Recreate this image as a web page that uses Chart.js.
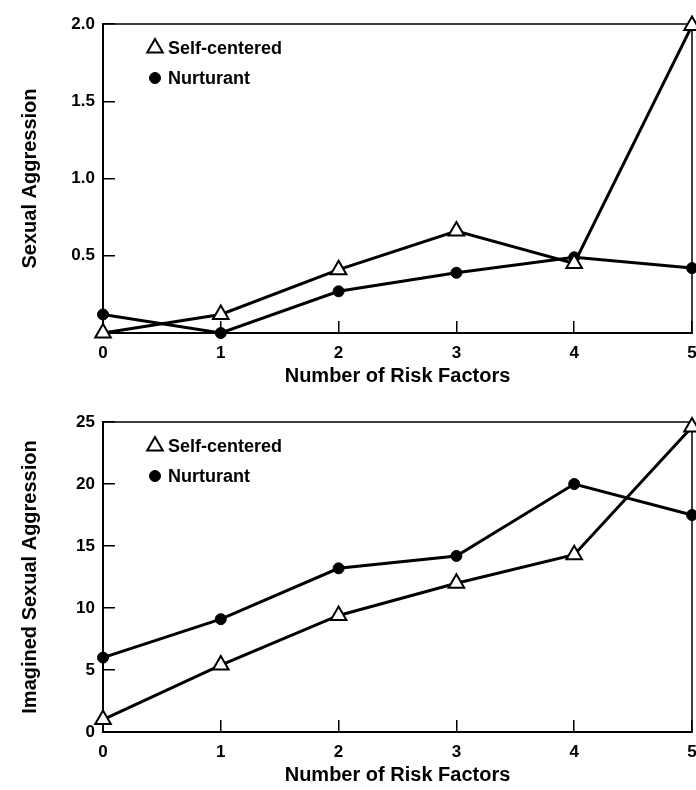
<!DOCTYPE html>
<html>
<head>
<meta charset="utf-8">
<script src="https://cdn.jsdelivr.net/npm/chart.js@4.4.1/dist/chart.umd.min.js"></script>
<style>
  html, body { margin: 0; padding: 0; background: #fff; overflow: hidden; }
  canvas { display: block; }
</style>
</head>
<body>
<canvas id="topChart" width="696" height="395"></canvas>
<canvas id="bottomChart" width="696" height="395"></canvas>
<script>
const riskFactors = ['0', '1', '2', '3', '4', '5'];

// top panel - Sexual Aggression
const sexAggSelf = [0.0, 0.12, 0.41, 0.66, 0.45, 1.99];
const sexAggNurt = [0.12, 0.0, 0.27, 0.39, 0.49, 0.42];
const sexAggTicks = ['', '0.5', '1.0', '1.5', '2.0'];

// bottom panel - Imagined Sexual Aggression
const imagAggSelf = [1.0, 5.4, 9.4, 12.0, 14.3, 24.6];
const imagAggNurt = [6.0, 9.1, 13.2, 14.2, 20.0, 17.5];
const imagAggTicks = ['0', '5', '10', '15', '20', '25'];

const FONT = '"Liberation Sans", Arial, Helvetica, sans-serif';

// box round the plot area (top + right sides)
const frame = {
    id: 'frame',
    beforeDatasetsDraw(chart) {
        const { ctx, chartArea: a } = chart;
        ctx.save();
        ctx.strokeStyle = '#000';
        ctx.lineWidth = 1.5;
        ctx.strokeRect(a.left, a.top, a.right - a.left, a.bottom - a.top);
        ctx.restore();
    }
};

// legend drawn inside the plot, top left, markers only
const insideLegend = {
    id: 'insideLegend',
    afterDraw(chart) {
        const { ctx, chartArea: a } = chart;
        chart.data.datasets.forEach((ds, i) => {
            const cy = a.top + 24 + i * 30;
            ctx.save();
            ctx.lineWidth = ds.pointBorderWidth;
            ctx.strokeStyle = ds.pointBorderColor;
            ctx.fillStyle = ds.pointBackgroundColor;
            Chart.helpers.drawPoint(ctx, {
                pointStyle: ds.pointStyle,
                radius: ds.pointRadius,
                borderWidth: ds.pointBorderWidth
            }, a.left + 52, cy);
            ctx.fillStyle = '#000';
            ctx.font = 'bold 18px ' + FONT;
            ctx.textBaseline = 'middle';
            ctx.fillText(ds.label, a.left + 65, cy + 1);
            ctx.restore();
        });
    }
};

function makePanel(id, selfData, nurtData, yTitle, yMax, yStep, yTicks, padTop, xAxisH, xTitlePad) {
    const tickFont = { family: FONT, size: 17, weight: 'bold' };
    const titleFont = { family: FONT, size: 20, weight: 'bold' };
    // negative tick length -> ticks point into the plot
    const grid = { drawOnChartArea: false, drawTicks: true, tickLength: -12, color: '#000', lineWidth: 1.5 };
    const border = { color: '#000', width: 2 };

    return new Chart(document.getElementById(id).getContext('2d'), {
        type: 'line',
        data: {
            labels: riskFactors,
            datasets: [
                {
                    label: 'Self-centered', data: selfData, borderColor: '#000', borderWidth: 3,
                    pointStyle: 'triangle', pointRadius: 9, pointBackgroundColor: '#fff',
                    pointBorderColor: '#000', pointBorderWidth: 2, tension: 0, clip: false
                },
                {
                    label: 'Nurturant', data: nurtData, borderColor: '#000', borderWidth: 3,
                    pointStyle: 'circle', pointRadius: 5.5, pointBackgroundColor: '#000',
                    pointBorderColor: '#000', pointBorderWidth: 1, tension: 0, clip: false
                }
            ]
        },
        options: {
            responsive: false,
            animation: false,
            layout: { autoPadding: false, padding: { top: padTop, right: 4, bottom: 0, left: 0 } },
            plugins: { legend: { display: false }, tooltip: { enabled: false } },
            scales: {
                x: {
                    type: 'category', offset: false, grid: grid, border: border,
                    ticks: { padding: 22, color: '#000', font: tickFont, maxRotation: 0, autoSkip: false },
                    title: {
                        display: true, text: 'Number of Risk Factors', color: '#000', font: titleFont,
                        padding: { top: xTitlePad, bottom: xTitlePad }
                    },
                    afterFit: s => { s.height = xAxisH; s.paddingLeft = 0; s.paddingRight = 0; }
                },
                y: {
                    min: 0, max: yMax, grid: grid, border: border,
                    ticks: {
                        stepSize: yStep, padding: 20, color: '#000', font: tickFont,
                        callback: (v, i) => yTicks[i]
                    },
                    title: {
                        display: true, text: yTitle, color: '#000', font: titleFont,
                        padding: { top: 18, bottom: 18 }
                    },
                    afterFit: s => { s.width = 103; s.paddingTop = 0; s.paddingBottom = 0; }
                }
            }
        },
        plugins: [frame, insideLegend]
    });
}

makePanel('topChart', sexAggSelf, sexAggNurt, 'Sexual Aggression', 2, 0.5, sexAggTicks, 24, 62, 7);
makePanel('bottomChart', imagAggSelf, imagAggNurt, 'Imagined Sexual Aggression', 25, 5, imagAggTicks, 27, 58, 3);
</script>
</body>
</html>
